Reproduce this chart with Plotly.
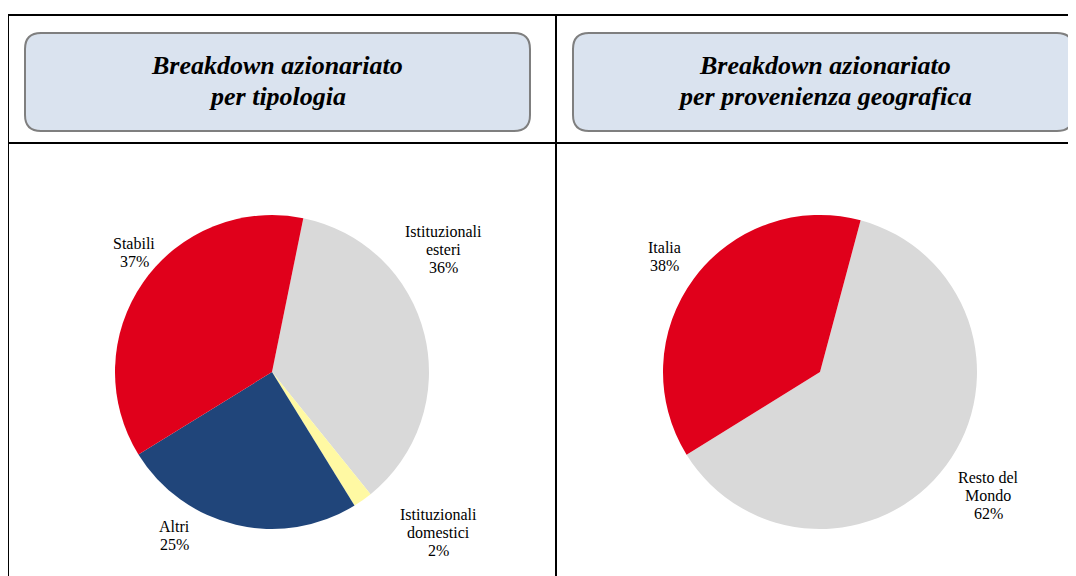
import plotly.graph_objects as go

# ---- data ----
tip_labels = ["Istituzionali esteri", "Istituzionali domestici", "Altri", "Stabili"]
tip_text = ["Istituzionali<br>esteri", "Istituzionali<br>domestici", "Altri", "Stabili"]
tip_values = [36, 2, 25, 37]
tip_colors = ["#D9D9D9", "#FFF9A3", "#20457A", "#E0001B"]

geo_labels = ["Resto del Mondo", "Italia"]
geo_text = ["Resto del<br>Mondo", "Italia"]
geo_values = [62, 38]
geo_colors = ["#D9D9D9", "#E0001B"]

title_left = ["Breakdown azionariato", "per tipologia"]
title_right = ["Breakdown azionariato", "per provenienza geografica"]

W, H = 1076, 576
OFF = 8  # page body margin compensation


def px(x):
    return (x - OFF) / W


def py(y):
    return 1 - (y - OFF) / H


def pie_domain(cx, cy, r):
    return dict(x=[px(cx - r), px(cx + r)], y=[py(cy + r), py(cy - r)])


fig = go.Figure()
fig.add_trace(go.Pie(
    labels=tip_labels, values=tip_values, sort=False, direction="clockwise",
    rotation=11.5, marker=dict(colors=tip_colors, line=dict(width=0)),
    textinfo="none", domain=pie_domain(272, 372, 157), showlegend=False,
))
fig.add_trace(go.Pie(
    labels=geo_labels, values=geo_values, sort=False, direction="clockwise",
    rotation=15, marker=dict(colors=geo_colors, line=dict(width=0)),
    textinfo="none", domain=pie_domain(820, 372, 157), showlegend=False,
))

shapes = []
line_style = dict(color="black", width=2)
# frame
for (x0, y0, x1, y1) in [(8, 15, 1090, 15), (8, 143, 1090, 143), (8, 15, 8, 590), (556, 15, 556, 590)]:
    shapes.append(dict(type="line", xref="paper", yref="paper",
                       x0=px(x0), y0=py(y0), x1=px(x1), y1=py(y1), line=line_style))


def rounded_box(x0, y0, x1, y1, r):
    pts = [
        ("M", x0 + r, y0), ("L", x1 - r, y0), ("Q", x1, y0, x1, y0 + r),
        ("L", x1, y1 - r), ("Q", x1, y1, x1 - r, y1), ("L", x0 + r, y1),
        ("Q", x0, y1, x0, y1 - r), ("L", x0, y0 + r), ("Q", x0, y0, x0 + r, y0),
    ]
    s = ""
    for p in pts:
        cmd = p[0]
        coords = p[1:]
        parts = []
        for i in range(0, len(coords), 2):
            parts.append(f"{px(coords[i]):.5f},{py(coords[i+1]):.5f}")
        s += cmd + " ".join(parts) + " "
    return s + "Z"


for (x0, x1) in [(25, 530), (573, 1073)]:
    shapes.append(dict(type="path", xref="paper", yref="paper",
                       path=rounded_box(x0, 33, x1, 131, 16),
                       fillcolor="#DAE3EF", line=dict(color="#7F7F7F", width=2)))

annotations = []
title_font = dict(family="Liberation Serif", size=26, color="black")
for cx, lines in [(277, title_left), (825, title_right)]:
    for yy, t in zip([65, 97], lines):
        annotations.append(dict(xref="paper", yref="paper", x=px(cx), y=py(yy),
                                text=f"<b><i>{t}</i></b>", showarrow=False,
                                font=title_font, xanchor="center", yanchor="middle"))

label_font = dict(family="Liberation Serif", size=16, color="black")
LINE = 18


def add_label(cx, cy, text, value):
    lines = text.split("<br>") + [f"{value}%"]
    n = len(lines)
    for i, t in enumerate(lines):
        yy = cy + (i - (n - 1) / 2) * LINE
        annotations.append(dict(xref="paper", yref="paper", x=px(cx), y=py(yy),
                                text=t, showarrow=False, font=label_font,
                                xanchor="center", yanchor="middle"))


tip_pos = [(444, 249), (438, 532), (174, 535), (134, 252)]
for (x, y), t, v in zip(tip_pos, tip_text, tip_values):
    add_label(x, y, t, v)
geo_pos = [(988, 495), (664, 256)]
for (x, y), t, v in zip(geo_pos, geo_text, geo_values):
    add_label(x, y, t, v)

fig.update_layout(
    width=W, height=H, margin=dict(l=0, r=0, t=0, b=0),
    paper_bgcolor="white", plot_bgcolor="white",
    shapes=shapes, annotations=annotations, showlegend=False,
)
fig.write_html("out.html")
